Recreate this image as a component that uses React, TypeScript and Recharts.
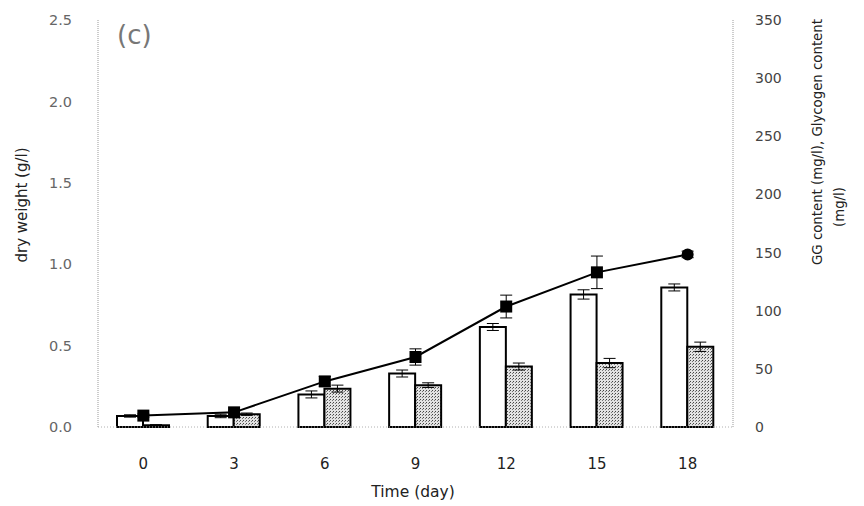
import React from 'react';
import { ComposedChart, Bar, Line, XAxis, YAxis, ErrorBar } from 'recharts';

// values (c)
const days = ['0', '3', '6', '9', '12', '15', '18'];
const dryWeight = [0.07, 0.09, 0.28, 0.43, 0.74, 0.95, 1.06];
const dryWeightErr = [0.01, 0.01, 0.03, 0.05, 0.07, 0.1, 0.02];
const ggContent = [9.5, 9.5, 28, 46, 86, 114, 120];
const ggErr = [1, 1.5, 3, 3, 3, 4, 3];
const glycogen = [1.5, 11, 33, 36, 52, 55, 69];
const glycogenErr = [0.5, 1, 3, 2, 3, 4, 4];
const leftTicks = [0, 0.5, 1, 1.5, 2, 2.5];
const rightTicks = [0, 50, 100, 150, 200, 250, 300, 350];

const data = days.map((day, i) => ({
  day,
  dry: dryWeight[i],
  dryErr: dryWeightErr[i],
  gg: ggContent[i],
  ggErr: ggErr[i],
  gly: glycogen[i],
  glyErr: glycogenErr[i],
}));

const FONT = '"DejaVu Sans", Verdana, sans-serif';

const Marker = (props: any) => {
  const { cx, cy, index } = props;
  if (cx == null || cy == null) return <g key={`m-${index}`} />;
  if (index === days.length - 1) {
    return <circle key={`m-${index}`} cx={cx} cy={cy} r={6} fill="#000" />;
  }
  return <rect key={`m-${index}`} x={cx - 6} y={cy - 6} width={12} height={12} fill="#000" />;
};

export default function App() {
  return (
    <div style={{ position: 'fixed', left: 0, top: 0, width: 864, height: 506, background: '#fff' }}>
      <ComposedChart
        width={864}
        height={506}
        data={data}
        margin={{ top: 20, right: 0, bottom: 0, left: 0 }}
        barGap={0}
      >
        <XAxis
          dataKey="day"
          height={79}
          tickLine={false}
          tickMargin={25}
          axisLine={{ stroke: '#b0b0b0', strokeDasharray: '1 2' }}
          tick={{ fontSize: 15, fill: '#222', fontFamily: FONT }}
        />
        <YAxis
          yAxisId="left"
          orientation="left"
          width={98}
          domain={[0, 2.5]}
          ticks={leftTicks}
          tickFormatter={(v: number) => v.toFixed(1)}
          tickLine={false}
          tickMargin={20}
          axisLine={{ stroke: '#999', strokeDasharray: '1 1' }}
          tick={{ fontSize: 14.5, fill: '#666', fontFamily: FONT }}
        />
        <YAxis
          yAxisId="right"
          orientation="right"
          width={131}
          domain={[0, 350]}
          ticks={rightTicks}
          tickLine={false}
          tickMargin={16}
          axisLine={{ stroke: '#999', strokeDasharray: '1 1' }}
          tick={{ fontSize: 14, fill: '#444', fontFamily: FONT }}
        />
        <Bar yAxisId="right" dataKey="gg" barSize={26} fill="#fff" stroke="#000" strokeWidth={2} isAnimationActive={false}>
          <ErrorBar dataKey="ggErr" width={6} stroke="#000" strokeWidth={1} />
        </Bar>
        <Bar yAxisId="right" dataKey="gly" barSize={26} fill="url(#stipple)" stroke="#000" strokeWidth={2} isAnimationActive={false}>
          <ErrorBar dataKey="glyErr" width={6} stroke="#000" strokeWidth={1} />
        </Bar>
        <Line
          yAxisId="left"
          dataKey="dry"
          stroke="#000"
          strokeWidth={2}
          dot={Marker}
          activeDot={false}
          isAnimationActive={false}
        >
          <ErrorBar dataKey="dryErr" width={6} stroke="#000" strokeWidth={1} />
        </Line>
      </ComposedChart>
      <svg
        width={864}
        height={506}
        style={{ position: 'absolute', left: 0, top: 0, pointerEvents: 'none' }}
        fontFamily={FONT}
      >
        <defs>
          <pattern id="stipple" width="3" height="3" patternUnits="userSpaceOnUse">
            <rect width="3" height="3" fill="#e2e2e2" />
            <rect x="0" y="0" width="1" height="1" fill="#444" />
            <rect x="2" y="1" width="1" height="1" fill="#777" />
          </pattern>
        </defs>
        <text x={117} y={44} fontSize={26} fill="#777">(c)</text>
        <text x={22} y={205} fontSize={15} fill="#222" textAnchor="middle" dominantBaseline="middle" transform="rotate(-90 22 205)">
          dry weight (g/l)
        </text>
        <text x={818} y={142} fontSize={13.3} fill="#222" textAnchor="middle" dominantBaseline="middle" transform="rotate(-90 818 142)">
          GG content (mg/l), Glycogen content
        </text>
        <text x={840} y={207} fontSize={13.3} fill="#222" textAnchor="middle" dominantBaseline="middle" transform="rotate(-90 840 207)">
          (mg/l)
        </text>
        <text x={413} y={492} fontSize={15.5} fill="#222" textAnchor="middle" dominantBaseline="middle">
          Time (day)
        </text>
      </svg>
    </div>
  );
}
